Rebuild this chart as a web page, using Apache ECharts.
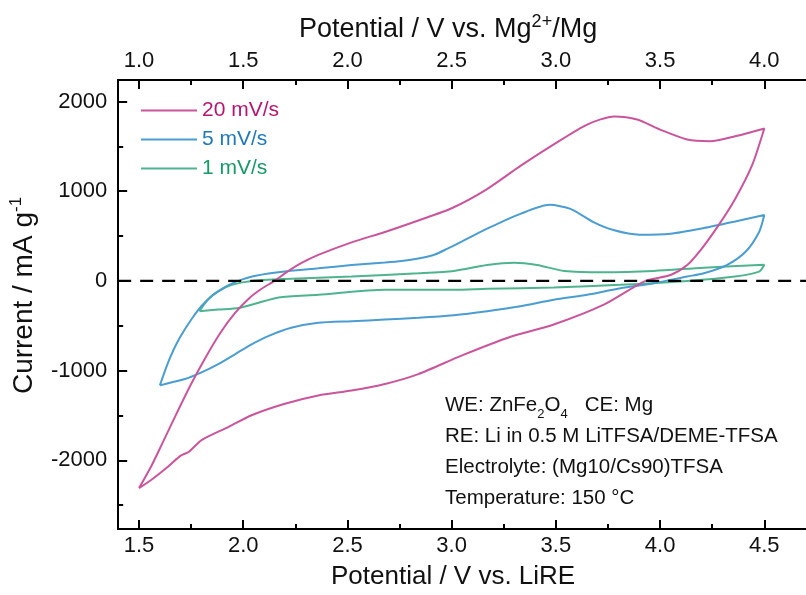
<!DOCTYPE html>
<html><head><meta charset="utf-8">
<script src="https://cdn.jsdelivr.net/npm/echarts@6/dist/echarts.min.js"></script>
<style>html,body{margin:0;padding:0;background:#fff}#c{width:806px;height:595px}</style>
</head><body><div id="c"></div>
<script>
// ---- data (potential vs LiRE in V, current in mA/g) ----
const seriesNames = ['20 mV/s', '5 mV/s', '1 mV/s'];
const cv20 = [
  [1.50,-2310],[1.56,-2060],[1.61,-1820],[1.68,-1480],[1.75,-1150],[1.82,-850],[1.89,-580],[1.96,-360],
  [2.03,-190],[2.09,-85],[2.15,0],[2.21,100],[2.28,200],[2.36,290],[2.52,430],[2.68,546],[2.84,674],
  [3.00,810],[3.17,1024],[3.33,1282],[3.49,1522],[3.65,1743],[3.78,1834],[3.89,1800],[4.00,1687],
  [4.13,1577],[4.24,1558],[4.36,1613],[4.50,1700],
  [4.44,1282],[4.36,914],[4.28,619],[4.20,361],[4.13,177],[4.05,66],[3.93,0],[3.73,-265],[3.49,-486],
  [3.27,-633],[3.05,-830],[2.84,-1039],[2.68,-1149],[2.52,-1222],[2.36,-1277],[2.20,-1370],[2.04,-1498],
  [1.93,-1628],[1.80,-1775],[1.74,-1904],[1.70,-1948],[1.64,-2070],[1.56,-2217],[1.50,-2310]
];
const cv5 = [
  [1.60,-1165],[1.625,-1000],[1.65,-850],[1.68,-700],[1.72,-540],[1.76,-400],[1.80,-280],[1.85,-165],
  [1.90,-85],[1.95,-25],[2.00,20],[2.06,58],
  [2.20,104],[2.36,140],[2.52,177],[2.68,205],[2.76,222],[2.84,250],[2.92,295],[2.98,360],[3.05,440],
  [3.17,582],[3.33,748],
  [3.47,848],[3.57,803],[3.68,656],[3.78,564],[3.90,516],[4.05,527],[4.21,590],[4.36,663],[4.50,735],
  [4.475,546],[4.41,325],[4.32,177],[4.21,85],[4.13,49],[3.97,-25],[3.81,-81],[3.65,-155],[3.49,-210],
  [3.33,-283],[3.17,-338],[3.01,-383],[2.84,-412],[2.68,-431],[2.52,-449],[2.36,-467],[2.23,-523],
  [2.12,-615],[2.04,-707],[1.96,-818],[1.88,-928],[1.80,-1020],[1.72,-1094],[1.64,-1141],[1.60,-1165]
];
const cv1 = [
  [1.79,-338],[1.83,-210],[1.88,-117],[1.945,-44],[2.04,0],[2.20,22],[2.52,49],[2.84,85],[3.01,111],
  [3.17,177],[3.30,203],[3.41,177],[3.54,111],[3.73,96],[3.97,111],[4.21,148],[4.50,180],
  [4.475,103],[4.36,49],[4.13,0],[3.81,-44],[3.49,-73],[3.17,-88],[3.01,-99],[2.68,-99],[2.36,-155],
  [2.17,-184],[2.07,-246],[1.98,-302],[1.88,-320],[1.79,-338]
];
const bottomTicks = [1.5, 2.0, 2.5, 3.0, 3.5, 4.0, 4.5];
const bottomMinor = [1.75, 2.25, 2.75, 3.25, 3.75, 4.25];
const topTicks = [1.0, 1.5, 2.0, 2.5, 3.0, 3.5, 4.0];
const topMinor = [1.25, 1.75, 2.25, 2.75, 3.25, 3.75];
const yTicks = [-2000, -1000, 0, 1000, 2000];
const yMinor = [-2500, -1500, -500, 500, 1500];
const notes = [
  'WE: ZnFe{sub|2}O{sub|4}   CE: Mg',
  'RE: Li in 0.5 M LiTFSA/DEME-TFSA',
  'Electrolyte: (Mg10/Cs90)TFSA',
  'Temperature: 150 °C'
];

const lineColors = ['#C9559B', '#4B9DD0', '#4FB48E'];
const textColors = ['#B5176F', '#1F78B8', '#169A66'];
const FONT = 'Liberation Sans';
const chart = echarts.init(document.getElementById('c'), null, {renderer: 'canvas'});

const grid = {left: 117, top: 80, width: 692, height: 453};
const axisLine = {show: true, onZero: false, lineStyle: {color: '#000', width: 2}};
function xAx(pos, min, max, ticks, len, labels, extra) {
  return Object.assign({
    type: 'value', position: pos, min: min, max: max,
    axisLine: axisLine, splitLine: {show: false},
    axisTick: {show: true, inside: true, length: len, customValues: ticks, lineStyle: {color: '#000', width: 2}},
    axisLabel: labels ? {show: true, customValues: ticks, fontFamily: FONT, fontSize: 22, color: '#111',
      formatter: v => v.toFixed(1), margin: pos === 'top' ? 8 : 6} : {show: false}
  }, extra || {});
}
const option = {
  animation: false,
  backgroundColor: '#fff',
  grid: grid,
  legend: {
    orient: 'vertical', left: 136, top: 95, itemWidth: 56, itemHeight: 14, itemGap: 8,
    icon: 'path://M0,0 L56,0 L56,2.2 L0,2.2 Z',
    textStyle: {fontFamily: FONT, fontSize: 21},
    data: seriesNames.map((n, i) => ({name: n, itemStyle: {color: lineColors[i]}, textStyle: {color: textColors[i]}}))
  },
  xAxis: [
    xAx('bottom', 1.4, 4.7, bottomTicks, 9, true, {
      name: 'Potential / V vs. LiRE', nameLocation: 'middle', nameGap: 35,
      nameTextStyle: {fontFamily: FONT, fontSize: 26, color: '#111', padding: [0, 18, 0, 0]}
    }),
    xAx('bottom', 1.4, 4.7, bottomMinor, 5, false),
    xAx('top', 0.9, 4.2, topTicks, 9, true, {
      name: 'Potential / V vs. Mg{sup|2+}/Mg', nameLocation: 'middle', nameGap: 34,
      nameTextStyle: {fontFamily: FONT, fontSize: 27, color: '#111', lineHeight: 32, padding: [0, 28, 0, 0],
        rich: {sup: {fontFamily: FONT, fontSize: 18, color: '#111', verticalAlign: 'top', lineHeight: 18}}}
    }),
    xAx('top', 0.9, 4.2, topMinor, 5, false)
  ],
  yAxis: [
    {
      type: 'value', position: 'left', min: -2766, max: 2240,
      axisLine: axisLine, splitLine: {show: false},
      axisTick: {show: true, inside: true, length: 9, customValues: yTicks, lineStyle: {color: '#000', width: 2}},
      axisLabel: {show: true, customValues: yTicks, fontFamily: FONT, fontSize: 22, color: '#111', margin: 11,
        formatter: v => String(v)},
      name: 'Current / mA g{sup|-1}', nameLocation: 'middle', nameGap: 57, nameRotate: 90,
      nameTextStyle: {fontFamily: FONT, fontSize: 28, color: '#111', lineHeight: 32, padding: [0, 0, 0, 18],
        rich: {sup: {fontFamily: FONT, fontSize: 17, color: '#111', verticalAlign: 'top', lineHeight: 17}}}
    },
    {
      type: 'value', position: 'left', min: -2766, max: 2240,
      axisLine: axisLine, splitLine: {show: false},
      axisTick: {show: true, inside: true, length: 5, customValues: yMinor, lineStyle: {color: '#000', width: 2}},
      axisLabel: {show: false}
    }
  ],
  graphic: notes.map((t, i) => ({
    type: 'text', left: 445, top: 395 + i * 31, z: 100,
    style: {
      text: t, fontFamily: FONT, fontSize: 20.5, fill: '#111',
      rich: {sub: {fontFamily: FONT, fontSize: 13, fill: '#111', verticalAlign: 'bottom', padding: [0, 0, -5, 0]}}
    }
  })),
  series: [
    {name: seriesNames[2], type: 'line', data: cv1, smooth: 0.25, symbol: 'none', z: 2,
      lineStyle: {color: lineColors[2], width: 2}, itemStyle: {color: lineColors[2]}},
    {name: seriesNames[1], type: 'line', data: cv5, smooth: 0.25, symbol: 'none', z: 3,
      lineStyle: {color: lineColors[1], width: 2}, itemStyle: {color: lineColors[1]}},
    {name: seriesNames[0], type: 'line', data: cv20, smooth: 0.25, symbol: 'none', z: 4,
      lineStyle: {color: lineColors[0], width: 2}, itemStyle: {color: lineColors[0]}},
    {name: 'zero', type: 'line', data: [[1.4, 0], [4.7, 0]], symbol: 'none', z: 5, silent: true,
      lineStyle: {color: '#000', width: 2.2, type: [13, 9]}}
  ]
};
chart.setOption(option);
</script></body></html>
